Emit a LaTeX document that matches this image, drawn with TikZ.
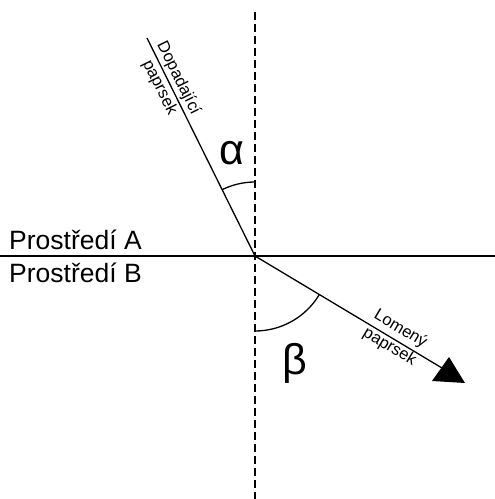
\documentclass[tikz,border=0pt]{standalone}
\usepackage{fontspec}
\setmainfont{Liberation Sans}
\begin{document}
\begin{tikzpicture}[x=1pt,y=1pt,
  ray/.style={line width=1.3pt},
  normalline/.style={line width=1.2pt,dash pattern=on 8pt off 4pt},
  anglearc/.style={line width=1.3pt},
  small/.style={font=\fontsize{16.5}{21}\selectfont,align=center,inner sep=0pt},
  big/.style={font=\fontsize{26.5}{30}\selectfont,inner sep=0pt,anchor=base west},
  greek/.style={font=\fontsize{43}{48}\selectfont,inner sep=0pt,anchor=base}]
\useasboundingbox (0,0) rectangle (495,499);
\coordinate (O) at (255,243);
\coordinate (Ntop) at (255,487);
\coordinate (Nbot) at (255,0);
\coordinate (Sl) at (0,243);
\coordinate (Sr) at (495,243);
\coordinate (Src) at (147,461);
\coordinate (Tip) at (452,125);
\draw[normalline] (Ntop) -- (Nbot);
\draw[ray] (Sl) -- (Sr);
\draw[ray] (Src) -- (O);
\draw[ray] (O) -- (Tip);
\fill (449,142) -- (465,116) -- (432,118) -- cycle;
\draw[anglearc] ([shift={(90:74)}]O) arc[start angle=90,end angle=116.4,radius=74];
\draw[anglearc] ([shift={(270:75)}]O) arc[start angle=270,end angle=329,radius=75];
\node[greek] (alpha) at (232,334) {α};
\node[greek] (beta) at (295,124) {β};
\node[big] (medA) at (9,249) {Prostředí A};
\node[big] (medB) at (9,216) {Prostředí B};
\node[small,rotate=-63.6] (inc) at (169,416) {Dopadající\\paprsek};
\node[small,rotate=-31] (ref) at (395,161) {Lomený\\paprsek};
\end{tikzpicture}
\end{document}
